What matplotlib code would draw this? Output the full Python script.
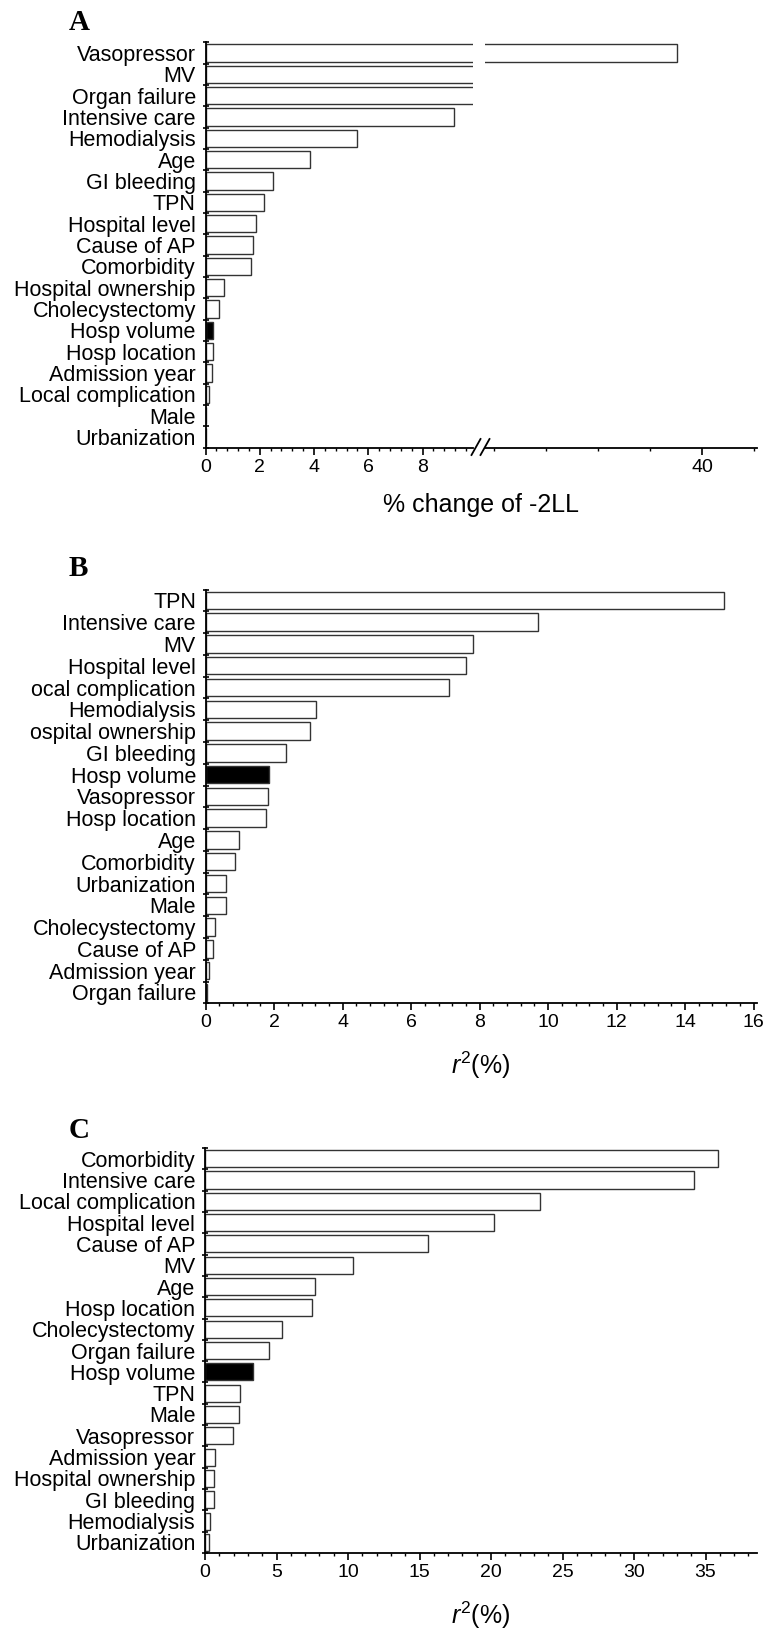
import numpy as np
import matplotlib
matplotlib.use('Agg')
import matplotlib.pyplot as plt
from matplotlib.lines import Line2D
from matplotlib.ticker import MultipleLocator, FixedLocator

plt.rcParams['font.family'] = ['Liberation Sans', 'DejaVu Sans']
plt.rcParams['mathtext.fontset'] = 'custom'
plt.rcParams['mathtext.rm'] = 'Liberation Sans'
plt.rcParams['mathtext.it'] = 'Liberation Sans:italic'

# panel A: % change of -2LL (MV / Organ failure fall inside the axis break)
labels_a = ['Vasopressor', 'MV', 'Organ failure', 'Intensive care', 'Hemodialysis',
            'Age', 'GI bleeding', 'TPN', 'Hospital level', 'Cause of AP',
            'Comorbidity', 'Hospital ownership', 'Cholecystectomy', 'Hosp volume',
            'Hosp location', 'Admission year', 'Local complication', 'Male',
            'Urbanization']
values_a = [37.6, 15.0, 12.0, 9.15, 5.57, 3.84, 2.48, 2.14, 1.85, 1.74, 1.67,
            0.69, 0.48, 0.27, 0.27, 0.23, 0.14, 0.03, 0.01]

# panel B: r2 (%)
labels_b = ['TPN', 'Intensive care', 'MV', 'Hospital level', 'ocal complication',
            'Hemodialysis', 'ospital ownership', 'GI bleeding', 'Hosp volume',
            'Vasopressor', 'Hosp location', 'Age', 'Comorbidity', 'Urbanization',
            'Male', 'Cholecystectomy', 'Cause of AP', 'Admission year',
            'Organ failure']
values_b = [15.14, 9.70, 7.81, 7.59, 7.10, 3.23, 3.04, 2.35, 1.85, 1.82, 1.75,
            0.98, 0.85, 0.58, 0.58, 0.28, 0.20, 0.10, 0.04]

# panel C: r2 (%)
labels_c = ['Comorbidity', 'Intensive care', 'Local complication', 'Hospital level',
            'Cause of AP', 'MV', 'Age', 'Hosp location', 'Cholecystectomy',
            'Organ failure', 'Hosp volume', 'TPN', 'Male', 'Vasopressor',
            'Admission year', 'Hospital ownership', 'GI bleeding', 'Hemodialysis',
            'Urbanization']
values_c = [35.85, 34.2, 23.4, 20.2, 15.6, 10.37, 7.66, 7.45, 5.39, 4.5, 3.37,
            2.44, 2.37, 1.99, 0.72, 0.65, 0.65, 0.34, 0.27]

highlight = 'Hosp volume'

W, H = 769, 1630
fig = plt.figure(figsize=(W / 100, H / 100), dpi=100)


def box(l, t, r, b):
    return [l / W, 1 - b / H, (r - l) / W, (b - t) / H]


def draw_bars(ax, labels, values):
    y = np.arange(len(labels))
    colors = ['black' if s == highlight else 'white' for s in labels]
    ax.barh(y, values, height=0.8, color=colors, edgecolor='#333333', linewidth=1.0)
    ax.set_ylim(len(labels) - 0.5, -0.5)
    for s in ['top', 'right']:
        ax.spines[s].set_visible(False)
    ax.spines['left'].set_linewidth(1.3)
    ax.spines['bottom'].set_linewidth(1.3)
    ax.tick_params(axis='x', which='major', direction='out', length=5, width=1.2,
                   labelsize=14, pad=3)
    ax.tick_params(axis='x', which='minor', direction='out', length=2.5, width=1.0)


def y_labels(ax, labels):
    y = np.arange(len(labels))
    ax.set_yticks(y, labels)
    ax.set_yticks(np.arange(len(labels) + 1) - 0.5, minor=True)
    ax.tick_params(axis='y', which='major', length=0, pad=7, labelsize=15.5)
    ax.tick_params(axis='y', which='minor', direction='inout', length=5, width=1.2)


# ---- A (broken x axis) ----
axa = fig.add_axes(box(205.5, 42.3, 473, 447.7))
draw_bars(axa, labels_a, values_a)
y_labels(axa, labels_a)
axa.set_xlim(0, 9.86)
axa.xaxis.set_major_locator(FixedLocator([0, 2, 4, 6, 8]))
axa.xaxis.set_minor_locator(MultipleLocator(0.4))

axa2 = fig.add_axes(box(485, 42.3, 757, 447.7))
draw_bars(axa2, labels_a, values_a)
axa2.spines['left'].set_visible(False)
axa2.set_yticks([])
axa2.set_xlim(19.1, 45.3)
axa2.xaxis.set_major_locator(FixedLocator([40]))
axa2.xaxis.set_minor_locator(FixedLocator([20, 25, 30, 35, 45]))
axa2.patch.set_alpha(0)

# break marks
for x0 in (471.5, 480.5):
    fig.add_artist(Line2D([x0 / W, (x0 + 9) / W], [1 - 455 / H, 1 - 439 / H],
                          color='black', lw=1.3))

fig.text(481 / W, 1 - 505 / H, '% change of -2LL', ha='center', va='center', fontsize=18)
fig.text(69 / W, 1 - 23 / H, 'A', ha='left', va='center', fontsize=21,
         fontweight='bold', family='Liberation Serif')

# ---- B ----
axb = fig.add_axes(box(205.7, 589.5, 757, 1003.3))
draw_bars(axb, labels_b, values_b)
y_labels(axb, labels_b)
axb.set_xlim(0, 16.1)
axb.xaxis.set_major_locator(MultipleLocator(2))
axb.xaxis.set_minor_locator(MultipleLocator(0.4))
fig.text(481 / W, 1 - 1065 / H, r'$r^2$(%)', ha='center', va='center', fontsize=18)
fig.text(69 / W, 1 - 569 / H, 'B', ha='left', va='center', fontsize=21,
         fontweight='bold', family='Liberation Serif')

# ---- C ----
axc = fig.add_axes(box(205, 1148, 757, 1553))
draw_bars(axc, labels_c, values_c)
y_labels(axc, labels_c)
axc.set_xlim(0, 38.6)
axc.xaxis.set_major_locator(MultipleLocator(5))
axc.xaxis.set_minor_locator(MultipleLocator(1))
fig.text(481 / W, 1 - 1615 / H, r'$r^2$(%)', ha='center', va='center', fontsize=18)
fig.text(69 / W, 1 - 1131 / H, 'C', ha='left', va='center', fontsize=21,
         fontweight='bold', family='Liberation Serif')

fig.savefig('out.png', dpi=100, facecolor='white')
